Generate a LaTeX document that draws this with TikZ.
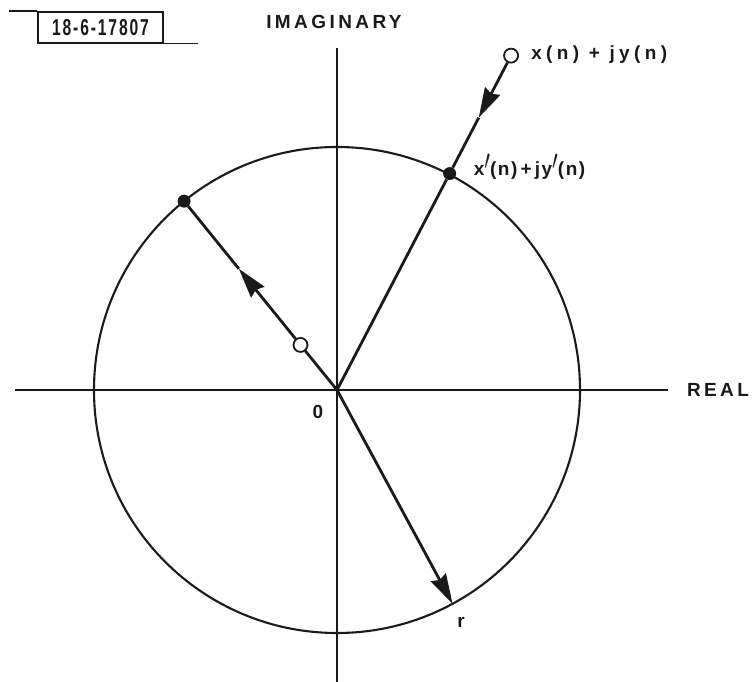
\documentclass[tikz,border=0pt]{standalone}
\usepackage{fontspec}
\usepackage{graphicx}
\usepackage{tikz}
\usetikzlibrary{arrows.meta,positioning,calc}
\setmainfont{Liberation Sans}
\definecolor{Ink}{HTML}{1A1A1A}
\newcommand{\pr}{\raisebox{0.55ex}{\scalebox{1.2}[1.6]{$\prime$}}}

\begin{document}
\begin{tikzpicture}[x=1pt,y=1pt,
  axis/.style={draw=Ink,line width=1.8pt},
  ray/.style={draw=Ink,line width=2.8pt},
  tip/.style={-{Stealth[length=30pt,width=17pt,inset=3pt]}},
  fulldot/.style={circle,fill=Ink,inner sep=0pt,minimum size=13pt},
  opendot/.style={circle,draw=Ink,fill=white,line width=1.8pt,inner sep=0pt,minimum size=14pt},
  lbl/.style={text=Ink,inner sep=0pt,font=\fontsize{19}{22}\selectfont\bfseries\addfontfeatures{LetterSpace=18}},
  every node/.style={text=Ink}]
  \useasboundingbox (-337,-292) rectangle (418,390);
  % axes and unit circle
  \coordinate (O) at (0,0);
  \coordinate (xl) at (-322,0);
  \coordinate (xr) at (331,0);
  \coordinate (yb) at (0,-292);
  \coordinate (yt) at (0,342);
  \draw[axis] (xl) -- (xr);
  \draw[axis] (yb) -- (yt);
  \draw[axis,line width=2.1pt] (O) circle (243pt);
  % points
  \node[fulldot] (pa) at (129:243) {};
  \node[opendot] (pin) at (129:58) {};
  \coordinate (ma) at (129:156);
  \node[fulldot] (pb) at (62.5:244) {};
  \node[opendot] (pout) at (62.5:377) {};
  \coordinate (mb) at (62.5:307);
  \coordinate (pr) at (-61.6:243);
  % rays
  \draw[ray] (O) -- (pin);
  \draw[ray,tip] (pin) -- (ma);
  \draw[ray] (ma) -- (pa);
  \draw[ray] (O) -- (pb);
  \draw[ray,tip] (pout) -- (mb);
  \draw[ray] (mb) -- (pb);
  \draw[ray,tip] (O) -- (pr);
  % labels
  \node[lbl,anchor=west,font=\fontsize{19}{22}\selectfont\bfseries\addfontfeatures{LetterSpace=23}] (xn) at ($(pout)+(20,1)$) {x(n) + jy(n)};
  \node[lbl,anchor=west,font=\fontsize{19}{22}\selectfont\bfseries\addfontfeatures{LetterSpace=8}] (xpn) at ($(pb)+(24,7)$) {x\pr(n)\,+\,jy\pr(n)};
  \node[lbl] (zero) at (-19,-22) {0};
  \node[lbl] (r) at (124,-232) {r};
  \node[lbl] (real) at (381,0) {REAL};
  \node[lbl] (imag) at (-3,368) {IMAGINARY};
  % figure number tag
  \node[draw=Ink,line width=1.5pt,minimum width=125,minimum height=31,inner sep=0pt] (tag) at (-236.5,362.5)
    {\scalebox{0.68}[1]{\fontsize{23}{26}\selectfont\bfseries\addfontfeatures{LetterSpace=12}18-6-17807}};
  \draw[Ink,line width=1.5pt] (tag.north west) -- ++(-28,0);
  \draw[Ink,line width=1.5pt] (tag.south east) -- ++(34,0);
\end{tikzpicture}
\end{document}
